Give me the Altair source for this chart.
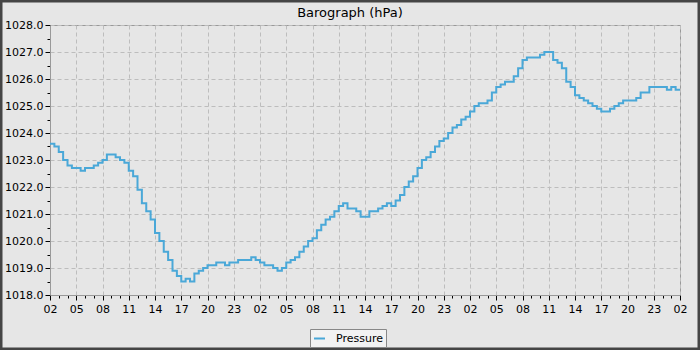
import altair as alt
import pandas as pd

# half-hour readings starting at 02:00, 72 hours
start_hour = 2
step_hours = 0.5
pressure = [
    1023.6, 1023.5, 1023.3, 1023.0, 1022.8, 1022.7, 1022.7, 1022.6, 1022.7, 1022.7,
    1022.8, 1022.9, 1023.0, 1023.2, 1023.2, 1023.1, 1023.0, 1022.9, 1022.6, 1022.4,
    1021.9, 1021.4, 1021.1, 1020.8, 1020.3, 1020.0, 1019.6, 1019.3, 1018.9, 1018.7,
    1018.5, 1018.6, 1018.5, 1018.8, 1018.9, 1019.0, 1019.1, 1019.1, 1019.2, 1019.2,
    1019.1, 1019.2, 1019.2, 1019.3, 1019.3, 1019.3, 1019.4, 1019.3, 1019.2, 1019.1,
    1019.1, 1019.0, 1018.9, 1019.0, 1019.2, 1019.3, 1019.4, 1019.6, 1019.8, 1020.0,
    1020.1, 1020.4, 1020.6, 1020.8, 1020.9, 1021.1, 1021.3, 1021.4, 1021.2, 1021.2,
    1021.1, 1020.9, 1020.9, 1021.1, 1021.1, 1021.2, 1021.3, 1021.4, 1021.3, 1021.5,
    1021.7, 1022.0, 1022.2, 1022.4, 1022.7, 1023.0, 1023.1, 1023.3, 1023.5, 1023.7,
    1023.8, 1024.0, 1024.2, 1024.3, 1024.5, 1024.6, 1024.8, 1025.0, 1025.1, 1025.1,
    1025.2, 1025.5, 1025.7, 1025.8, 1025.9, 1025.9, 1026.1, 1026.4, 1026.7, 1026.8,
    1026.8, 1026.8, 1026.9, 1027.0, 1027.0, 1026.7, 1026.6, 1026.4, 1025.9, 1025.7,
    1025.4, 1025.3, 1025.2, 1025.1, 1025.0, 1024.9, 1024.8, 1024.8, 1024.9, 1025.0,
    1025.1, 1025.2, 1025.2, 1025.2, 1025.3, 1025.5, 1025.5, 1025.7, 1025.7, 1025.7,
    1025.7, 1025.6, 1025.7, 1025.6, 1025.6,
]
series_name = "Pressure"
title_text = "Barograph (hPa)"
hour_ticks = list(range(0, 73))
y_ticks = [1018 + 0.5 * i for i in range(21)]

df = pd.DataFrame({
    "hour": [i * step_hours for i in range(len(pressure))],
    "pressure": pressure,
    "series": series_name,
})

FONT = "DejaVu Sans"
BG = "#e6e6e6"

x_label = (
    f"datum.value % 3 === 0 ? "
    f"(((datum.value+{start_hour})%24) < 10 ? '0' : '') + ((datum.value+{start_hour})%24) : ''"
)

line = alt.Chart(df).mark_line(interpolate="step-after", strokeWidth=2).encode(
    x=alt.X(
        "hour:Q",
        scale=alt.Scale(domain=[0, 72], nice=False, zero=False),
        axis=alt.Axis(
            title=None,
            values=hour_ticks,
            labelExpr=x_label,
            labelOverlap=False,
            labelFlush=False,
            labelFont=FONT,
            labelFontSize=11,
            labelColor="#000000",
            labelPadding=3,
            tickColor="#000000",
            tickSize={"condition": {"test": "datum.value % 3 === 0", "value": 5}, "value": 3},
            gridOpacity={"condition": {"test": "datum.value % 3 === 0", "value": 1}, "value": 0},
            gridColor="#bdbdbd",
            gridDash=[4, 3],
            domainColor="#999999",
        ),
    ),
    y=alt.Y(
        "pressure:Q",
        scale=alt.Scale(domain=[1018, 1028], nice=False, zero=False),
        axis=alt.Axis(
            title=None,
            values=y_ticks,
            format=".1f",
            labelExpr="datum.value % 1 === 0 ? datum.label : ''",
            labelOverlap=False,
            labelFlush=False,
            labelFont=FONT,
            labelFontSize=11,
            labelColor="#000000",
            labelPadding=2,
            tickColor="#000000",
            tickSize={"condition": {"test": "datum.value % 1 === 0", "value": 5}, "value": 3},
            gridOpacity={"condition": {"test": "datum.value % 1 === 0", "value": 1}, "value": 0},
            gridColor="#bdbdbd",
            gridDash=[4, 3],
            domainColor="#999999",
        ),
    ),
    color=alt.Color(
        "series:N",
        scale=alt.Scale(range=["#4aa8d8"]),
        legend=alt.Legend(
            title=None,
            orient="none",
            legendX=260,
            legendY=304,
            fillColor="#f2f2f2",
            strokeColor="#888888",
            padding=3,
            cornerRadius=0,
            symbolType="stroke",
            symbolStrokeWidth=2,
            symbolSize=120,
            labelOffset=10,
            labelFont=FONT,
            labelFontSize=11,
            labelColor="#000000",
        ),
    ),
)

border = alt.Chart(pd.DataFrame({"a": [0]})).mark_rect(
    filled=False, stroke="#454545", strokeWidth=3
).encode(
    x=alt.value(-49), x2=alt.value(649), y=alt.value(-24), y2=alt.value(324)
)

title = alt.Chart(pd.DataFrame({"t": [title_text]})).mark_text(
    font=FONT, fontSize=13, color="#000000", align="center", baseline="alphabetic"
).encode(
    text="t:N", x=alt.value(300), y=alt.value(-8)
)

chart = alt.layer(line, border, title).properties(
    width=630,
    height=270,
    padding={"left": 50, "top": 25, "right": 20, "bottom": 55},
    autosize=alt.AutoSizeParams(type="none"),
    background=BG,
).configure_view(
    stroke="#999999", strokeWidth=1, fill=BG
)

chart.save("out.html", embed_options={"renderer": "svg", "actions": False})
